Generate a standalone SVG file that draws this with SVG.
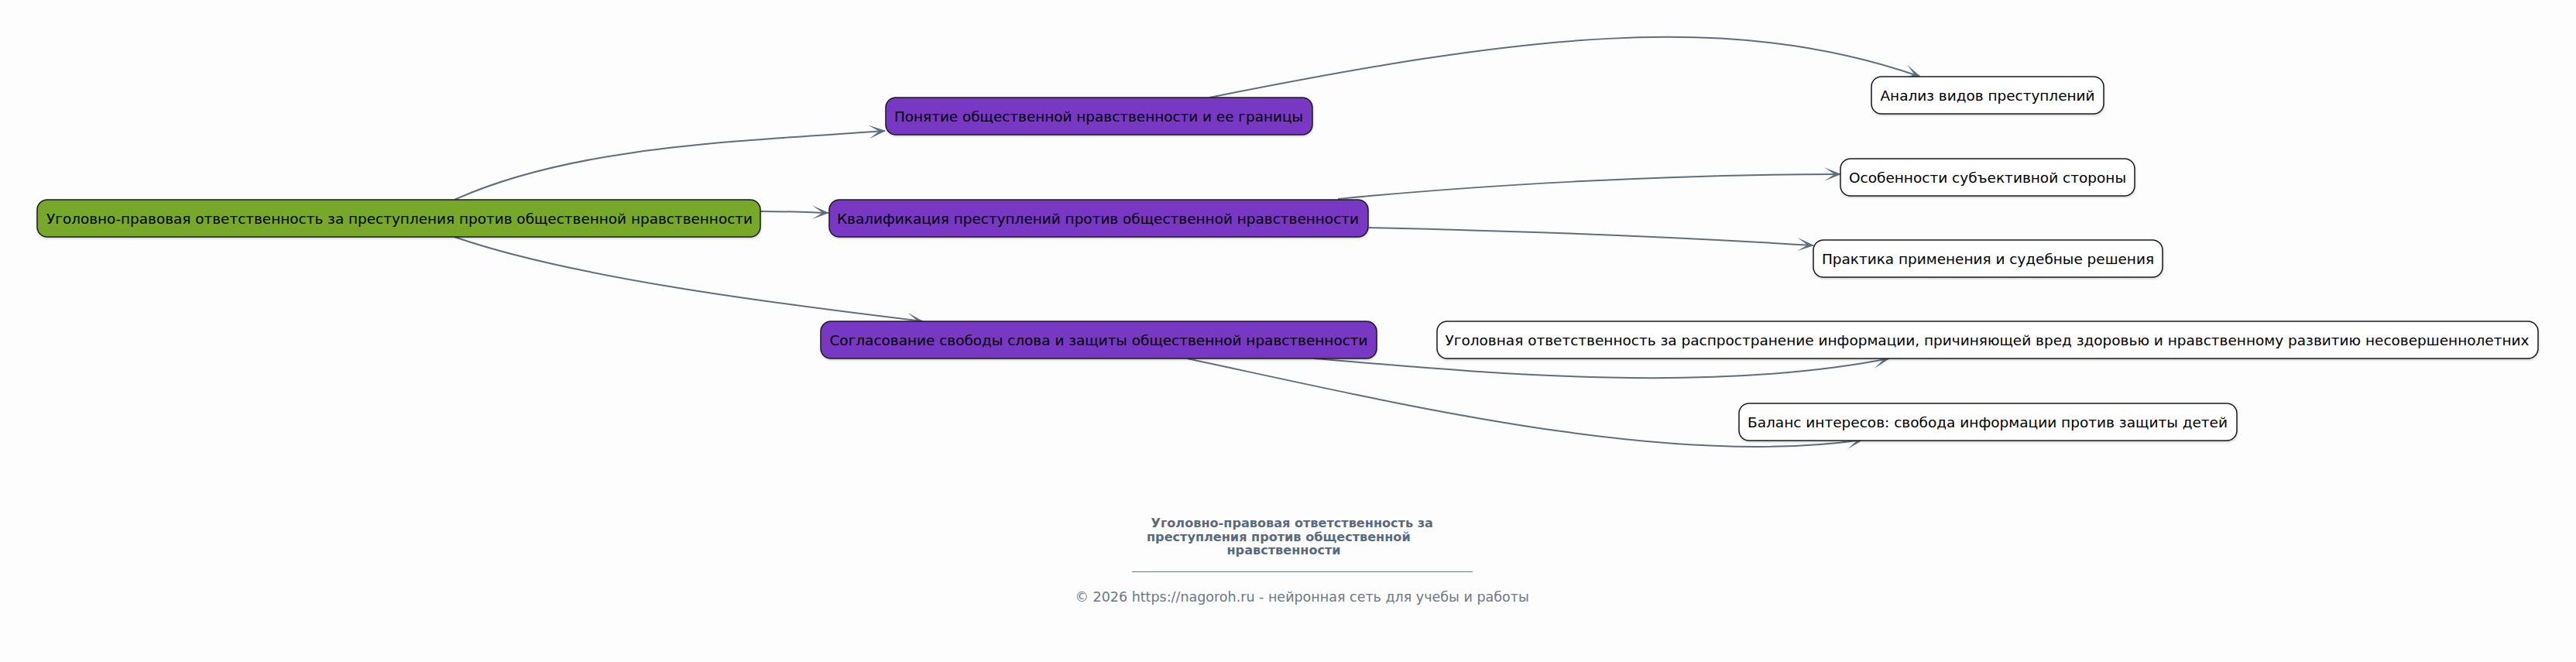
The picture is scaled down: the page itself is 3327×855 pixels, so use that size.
<svg xmlns="http://www.w3.org/2000/svg" width="3327" height="855" viewBox="0 0 3327 855">
<style>
.node rect{stroke:#1a1a1a;stroke-width:1.5}
.root rect{fill:#78a82c}
.l1 rect{fill:#7838c4}
.l2 rect{fill:#ffffff}
.node text{font-family:"DejaVu Sans",sans-serif;font-size:18.5px;fill:#000;text-anchor:middle}
.edge{fill:none;stroke:#5e6e7e;stroke-width:2}
.title{font-family:"DejaVu Sans",sans-serif;font-weight:bold;font-size:16.1px;fill:#5a6a7c}
.foot{font-family:"DejaVu Sans",sans-serif;font-size:17.5px;fill:#6b7888}
</style>
<defs>
<marker id="arr" viewBox="0 0 20 16" refX="19" refY="8" markerWidth="22" markerHeight="18" markerUnits="userSpaceOnUse" orient="auto">
<path d="M0,0 L20,8 L0,16 L12,8 Z" fill="#5e6e7e"/>
</marker>
<filter id="sh" x="-5%" y="-20%" width="110%" height="160%">
<feDropShadow dx="0.5" dy="1.5" stdDeviation="0.8" flood-color="#000" flood-opacity="0.18"/>
</filter>
</defs>
<rect x="0" y="0" width="3327" height="855" fill="#fdfdfe"/>
<g id="connectors">
<path class="edge" marker-end="url(#arr)" d="M587,258 C737,190 943,183 1143,169"/>
<path class="edge" marker-end="url(#arr)" d="M982,273 C1020,273 1040,274 1070,275"/>
<path class="edge" marker-end="url(#arr)" d="M587,306 C737,358 992,391 1192,415"/>
<path class="edge" marker-end="url(#arr)" d="M1562,126 C1962,46 2230,12 2480,99"/>
<path class="edge" marker-end="url(#arr)" d="M1728,257 C1900,240 2150,225 2377,225"/>
<path class="edge" marker-end="url(#arr)" d="M1768,294 C1950,298 2150,305 2342,317"/>
<path class="edge" marker-end="url(#arr)" d="M1697,463 C1900,480 2200,510 2440,463"/>
<path class="edge" marker-end="url(#arr)" d="M1533,463 C1800,520 2150,605 2406,568"/>
</g>
<g id="n0" class="node root"><rect x="48" y="258" width="934" height="48" rx="13" filter="url(#sh)"/><text x="516" y="288.5" textLength="912" lengthAdjust="spacingAndGlyphs">Уголовно-правовая ответственность за преступления против общественной нравственности</text></g>
<g id="n1" class="node l1"><rect x="1144" y="126" width="551" height="48" rx="13" filter="url(#sh)"/><text x="1419" y="156.5" textLength="528" lengthAdjust="spacingAndGlyphs">Понятие общественной нравственности и ее границы</text></g>
<g id="n2" class="node l1"><rect x="1071" y="258" width="696" height="48" rx="13" filter="url(#sh)"/><text x="1418" y="288.5" textLength="674" lengthAdjust="spacingAndGlyphs">Квалификация преступлений против общественной нравственности</text></g>
<g id="n3" class="node l1"><rect x="1060" y="415" width="718" height="48" rx="13" filter="url(#sh)"/><text x="1419" y="445.5" textLength="695" lengthAdjust="spacingAndGlyphs">Согласование свободы слова и защиты общественной нравственности</text></g>
<g id="n4" class="node l2"><rect x="2417" y="99" width="300" height="48" rx="13" filter="url(#sh)"/><text x="2567" y="129.5" textLength="277" lengthAdjust="spacingAndGlyphs">Анализ видов преступлений</text></g>
<g id="n5" class="node l2"><rect x="2377" y="205" width="380" height="48" rx="13" filter="url(#sh)"/><text x="2567" y="235.5" textLength="358" lengthAdjust="spacingAndGlyphs">Особенности субъективной стороны</text></g>
<g id="n6" class="node l2"><rect x="2342" y="310" width="451" height="48" rx="13" filter="url(#sh)"/><text x="2567.5" y="340.5" textLength="429" lengthAdjust="spacingAndGlyphs">Практика применения и судебные решения</text></g>
<g id="n7" class="node l2"><rect x="1856" y="415" width="1422" height="48" rx="13" filter="url(#sh)"/><text x="2566.5" y="445.5" textLength="1400" lengthAdjust="spacingAndGlyphs">Уголовная ответственность за распространение информации, причиняющей вред здоровью и нравственному развитию несовершеннолетних</text></g>
<g id="n8" class="node l2"><rect x="2246" y="521" width="643" height="48" rx="13" filter="url(#sh)"/><text x="2567" y="551.5" textLength="620" lengthAdjust="spacingAndGlyphs">Баланс интересов: свобода информации против защиты детей</text></g>
<g id="title">
<text class="title" x="1486.5" y="681">Уголовно-правовая ответственность за</text>
<text class="title" x="1481" y="698.5">преступления против общественной</text>
<text class="title" x="1584.5" y="716">нравственности</text>
<line x1="1462" y1="738.5" x2="1902" y2="738.5" stroke="#6a7a8c" stroke-width="1"/>
<text class="foot" x="1388.5" y="777">© 2026 https://nagoroh.ru - нейронная сеть для учебы и работы</text>
</g>
</svg>
